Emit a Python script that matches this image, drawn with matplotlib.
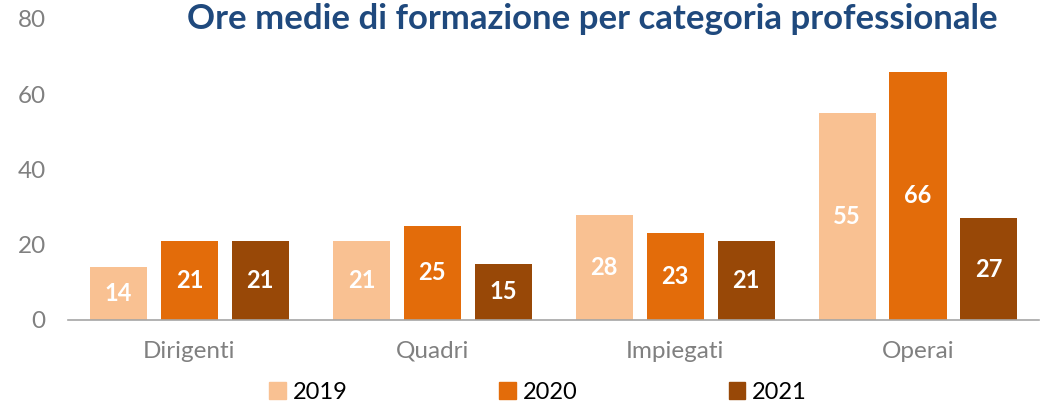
import numpy as np
import matplotlib.pyplot as plt
from matplotlib.patches import Patch

categories = ['Dirigenti', 'Quadri', 'Impiegati', 'Operai']
years = ['2019', '2020', '2021']
v2019 = [14, 21, 28, 55]
v2020 = [21, 25, 23, 66]
v2021 = [21, 15, 21, 27]
yticks = [0, 20, 40, 60, 80]

colors = ['#F9C192', '#E36C0A', '#984807']
font = ['Lato', 'DejaVu Sans']
plt.rcParams['font.family'] = font

fig = plt.figure(figsize=(10.43, 4.05), dpi=100)
ax = fig.add_axes([0.0652, 0.2099, 0.9314, 0.7432])

x = np.arange(len(categories))
w = 0.235
off = 0.292
for k, vals in enumerate([v2019, v2020, v2021]):
    bars = ax.bar(x + (k - 1) * off, vals, width=w, color=colors[k], label=years[k])
    for b, v in zip(bars, vals):
        ax.text(b.get_x() + b.get_width() / 2, v / 2, str(v), ha='center', va='center',
                color='white', fontsize=17, fontweight='bold')

ax.set_xlim(-0.5, 3.5)
ax.set_ylim(0, 80)
ax.set_yticks(yticks)
ax.set_xticks(x)
ax.set_xticklabels(categories)
ax.tick_params(length=0, labelsize=17.5, labelcolor='#808080')
ax.tick_params(axis='x', pad=15)
ax.tick_params(axis='y', pad=16)
for s in ['top', 'right', 'left']:
    ax.spines[s].set_visible(False)
ax.spines['bottom'].set_color('#A6A6A6')
ax.spines['bottom'].set_linewidth(1.2)

fig.text(0.568, 0.952, 'Ore medie di formazione per categoria professionale', ha='center',
         va='center', fontsize=25, fontweight='bold', color='#1F497D')

handles = [Patch(color=c) for c in colors]
fig.legend(handles, years, loc='center', bbox_to_anchor=(0.516, 0.032), ncol=3, frameon=False,
           fontsize=17, handlelength=0.7, handleheight=0.7, columnspacing=6.4, handletextpad=0.3)

fig.savefig('out.png', dpi=100)
